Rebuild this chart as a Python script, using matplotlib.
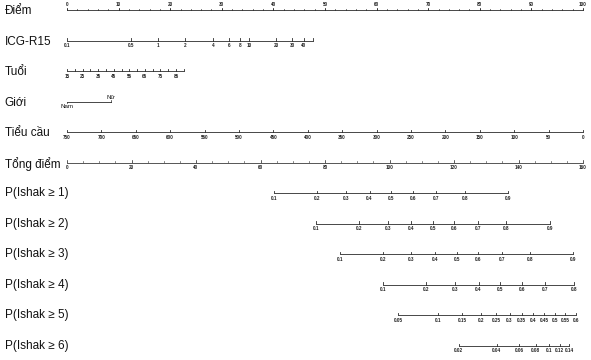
import numpy as np
import matplotlib
matplotlib.use("Agg")
import matplotlib.pyplot as plt

plt.rcParams["font.family"] = ["Liberation Sans", "DejaVu Sans"]

# ── values ───────────────────────────────────────────────────────────────
row_labels = ["Điểm", "ICG-R15", "Tuổi", "Giới", "Tiểu cầu", "Tổng điểm",
              "P(Ishak ≥ 1)", "P(Ishak ≥ 2)", "P(Ishak ≥ 3)",
              "P(Ishak ≥ 4)", "P(Ishak ≥ 5)", "P(Ishak ≥ 6)"]

points_major = list(range(0, 101, 10))
points_minor = list(range(0, 101, 2))

icg_ticks = [0.1, 0.5, 1, 2, 4, 6, 8, 10, 20, 30, 40]
icg_end = 50
icg_pts_per_decade = 17.64

age_ticks = list(range(15, 91, 5))
age_labels = list(range(15, 86, 10))
age_pts_per_year = 0.3018

sex_labels = ["Nam", "Nữ"]
sex_points = [0, 8.5]

plt_ticks = list(range(750, -1, -50))
plt_pts_per_unit = 100 / 750

total_major = list(range(0, 161, 20))
total_minor = list(range(0, 161, 5))
total_max = 160

# P(Ishak >= k): total points at p = 0.5 and total points per logit unit
ishak_center = [100.5, 113.4, 120.8, 134.3, 151.2, 185.7]
ishak_slope = 16.5
ishak_ticks = [
    [0.1, 0.2, 0.3, 0.4, 0.5, 0.6, 0.7, 0.8, 0.9],
    [0.1, 0.2, 0.3, 0.4, 0.5, 0.6, 0.7, 0.8, 0.9],
    [0.1, 0.2, 0.3, 0.4, 0.5, 0.6, 0.7, 0.8, 0.9],
    [0.1, 0.2, 0.3, 0.4, 0.5, 0.6, 0.7, 0.8],
    [0.05, 0.1, 0.15, 0.2, 0.25, 0.3, 0.35, 0.4, 0.45, 0.5, 0.55, 0.6],
    [0.02, 0.04, 0.06, 0.08, 0.1, 0.12, 0.14],
]

# ── layout ───────────────────────────────────────────────────────────────
W, H = 591, 360
X0, X1 = 67, 583          # pixel span of the 0-100 points scale
Y0, Y1 = 10, 346          # pixel centre of first / last row
row_gap = (Y1 - Y0) / (len(row_labels) - 1)
px = 1 / row_gap          # one pixel in row units
ppx = 100 / (X1 - X0)     # one pixel in points units

LINE = "#2a2a2a"
TICK_FS = 3.3

fig = plt.figure(figsize=(W / 100, H / 100), dpi=100)
ax = fig.add_axes([0, 0, 1, 1])
ax.set_xlim(-X0 * ppx, 100 + (W - X1) * ppx)
ax.set_ylim((H - Y0) * px, -Y0 * px)
ax.axis("off")


def fmt(v):
    return f"{v:g}"


def draw_axis(row, pos, labels, minor=None, above=False, color=LINE, lw=0.6):
    pos = np.asarray(pos, dtype=float)
    ax.plot([pos.min(), pos.max()], [row, row], color=color, lw=lw,
            solid_capstyle="butt")
    if minor is not None:
        for m in minor:
            ax.plot([m, m], [row, row - 1.5 * px], color=color, lw=0.5)
    for p, lab in zip(pos, labels):
        ax.plot([p, p], [row, row - 2.5 * px], color=color, lw=0.6)
        if lab is None:
            continue
        if above:
            ax.text(p, row - 3.5 * px, lab, ha="center", va="bottom",
                    fontsize=TICK_FS, fontweight="bold", color="#222")
        else:
            ax.text(p, row + 2.5 * px, lab, ha="center", va="top",
                    fontsize=TICK_FS, fontweight="bold", color="#222")


for i, lab in enumerate(row_labels):
    ax.text(0.008, i + (1.0 if i < 6 else 0.0) * px, lab,
            transform=ax.get_yaxis_transform(),
            ha="left", va="center", fontsize=8.5, color="#111")

# row 0: points
draw_axis(0, points_major, [fmt(v) for v in points_major],
          minor=points_minor, above=True)

# row 1: ICG-R15 (log)
icg_pos = [(np.log10(v) + 1) * icg_pts_per_decade for v in icg_ticks]
icg_pos.append((np.log10(icg_end) + 1) * icg_pts_per_decade)
draw_axis(1, icg_pos, [fmt(v) for v in icg_ticks] + [None])

# row 2: age
age_pos = [(a - 15) * age_pts_per_year for a in age_ticks]
draw_axis(2, age_pos, [str(a) if a in age_labels else None for a in age_ticks])

# row 3: sex
ax.plot(sex_points, [3, 3], color=LINE, lw=0.6)
ax.plot([sex_points[0]] * 2, [3, 3 + 1.5 * px], color=LINE, lw=0.5)
ax.plot([sex_points[1]] * 2, [3, 3 - 1.5 * px], color=LINE, lw=0.5)
ax.text(sex_points[0], 3 + 2.0 * px, sex_labels[0], ha="center", va="top",
        fontsize=4.4, color="#111")
ax.text(sex_points[1], 3 - 2.0 * px, sex_labels[1], ha="center", va="bottom",
        fontsize=4.4, color="#111")

# row 4: platelets
plt_pos = [(750 - v) * plt_pts_per_unit for v in plt_ticks]
draw_axis(4, plt_pos, [str(v) for v in plt_ticks])

# row 5: total points
scale = 100 / total_max
draw_axis(5, [v * scale for v in total_major], [str(v) for v in total_major],
          minor=[v * scale for v in total_minor], color="#555", lw=0.7)

# rows 6-11: probabilities
for k, (c, ticks) in enumerate(zip(ishak_center, ishak_ticks)):
    t = np.array(ticks)
    total = c + ishak_slope * np.log(t / (1 - t))
    draw_axis(6 + k, total * scale, [fmt(v) for v in ticks])

fig.savefig("out.png", dpi=100)
